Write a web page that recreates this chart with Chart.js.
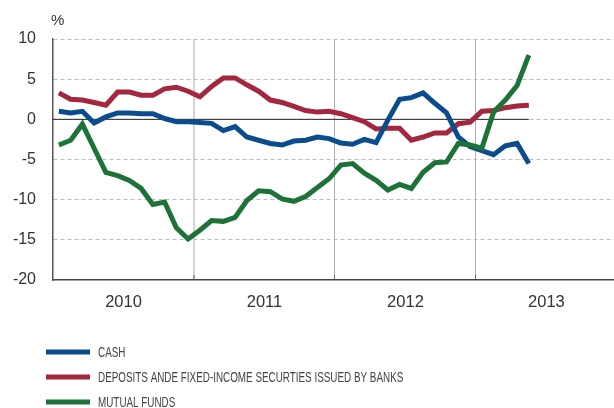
<!DOCTYPE html>
<html>
<head>
<meta charset="utf-8">
<script src="https://cdn.jsdelivr.net/npm/chart.js@4.4.1/dist/chart.umd.min.js"></script>
<style>
  html, body { margin: 0; padding: 0; background: #fff; }
  #wrap { position: relative; width: 614px; height: 408px; }
</style>
</head>
<body>
<div id="wrap"><canvas id="chart" width="614" height="408"></canvas></div>
<script>
// monthly values, Jan 2010 .. May 2013 (%)
const years = ["2010", "2011", "2012", "2013"];
const yTicks = [10, 5, 0, -5, -10, -15, -20];
const seriesNames = [
  "CASH",
  "DEPOSITS ANDE FIXED-INCOME SECURTIES ISSUED BY BANKS",
  "MUTUAL FUNDS",
];
const cash = [
  1.0, 0.8, 1.0, -0.45, 0.3, 0.8, 0.8, 0.7, 0.7, 0.1, -0.3, -0.3,
  -0.4, -0.5, -1.4, -0.9, -2.2, -2.6, -3.0, -3.2, -2.7, -2.6, -2.2, -2.4,
  -2.95, -3.1, -2.5, -2.9, -0.1, 2.5, 2.7, 3.3, 2.0, 0.8, -2.2, -3.4,
  -3.9, -4.4, -3.3, -3.0, -5.5,
];
const deposits = [
  3.3, 2.5, 2.4, 2.1, 1.75, 3.4, 3.4, 3.0, 3.0, 3.8, 4.0, 3.5,
  2.8, 4.1, 5.15, 5.15, 4.3, 3.5, 2.4, 2.1, 1.6, 1.1, 0.9, 1.0,
  0.7, 0.2, -0.3, -1.2, -1.1, -1.1, -2.6, -2.2, -1.7, -1.7, -0.55, -0.35,
  1.0, 1.1, 1.45, 1.65, 1.75,
];
const mutualFunds = [
  -3.2, -2.6, -0.6, -3.6, -6.6, -7.0, -7.6, -8.6, -10.6, -10.3, -13.5, -14.9,
  -13.8, -12.6, -12.7, -12.2, -10.1, -8.9, -9.0, -9.9, -10.2, -9.6, -8.5, -7.4,
  -5.7, -5.5, -6.7, -7.6, -8.8, -8.1, -8.6, -6.6, -5.4, -5.3, -3.0, -3.2,
  -3.6, 0.9, 2.4, 4.2, 8.0,
];
const colors = ["#0b4c8c", "#a3283f", "#1d7337"];

function toPoints(values) {
  return values.map((v, i) => ({ x: i + 0.5, y: v }));
}

const FONT = "'Liberation Sans', Arial, sans-serif";

// legend + unit label, drawn on the canvas (legend text is condensed)
const extras = {
  id: "extras",
  afterDraw(chart) {
    const ctx = chart.ctx;
    ctx.save();
    ctx.fillStyle = "#333";
    ctx.font = "15px " + FONT;
    ctx.textAlign = "left";
    ctx.textBaseline = "middle";
    ctx.fillText("%", 51, 21);

    ctx.font = "14px " + FONT;
    seriesNames.forEach((name, i) => {
      const y = 352 + i * 25;
      ctx.strokeStyle = colors[i];
      ctx.lineWidth = 5;
      ctx.beginPath();
      ctx.moveTo(46, y);
      ctx.lineTo(90, y);
      ctx.stroke();
      ctx.save();
      ctx.translate(98, y + 1);
      ctx.scale(0.705, 1);
      ctx.fillStyle = "#444";
      ctx.fillText(name, 0, 0);
      ctx.restore();
    });
    ctx.restore();
  },
};

const ctx = document.getElementById("chart");
new Chart(ctx, {
  type: "line",
  data: {
    datasets: [
      {
        label: "zero",
        data: [{ x: 0, y: 0 }, { x: cash.length - 0.5, y: 0 }],
        borderColor: "#222",
        borderWidth: 1,
        pointRadius: 0,
        order: 4,
      },
      {
        label: seriesNames[0],
        data: toPoints(cash),
        borderColor: colors[0],
        borderWidth: 5,
        pointRadius: 0,
        order: 2,
      },
      {
        label: seriesNames[1],
        data: toPoints(deposits),
        borderColor: colors[1],
        borderWidth: 5,
        pointRadius: 0,
        order: 3,
      },
      {
        label: seriesNames[2],
        data: toPoints(mutualFunds),
        borderColor: colors[2],
        borderWidth: 5,
        pointRadius: 0,
        order: 1,
      },
    ],
  },
  options: {
    responsive: false,
    animation: false,
    devicePixelRatio: 1,
    layout: { padding: { top: 39, right: 0, bottom: 88, left: 0 } },
    plugins: {
      legend: { display: false },
      tooltip: { enabled: false },
    },
    scales: {
      x: {
        type: "linear",
        position: "bottom",
        min: 0,
        max: 47.75,
        afterBuildTicks: (s) => {
          s.ticks = [12, 24, 36].map((v) => ({ value: v }));
        },
        afterFit: (s) => {
          s.height = 0;
        },
        ticks: { display: false },
        grid: {
          color: (c) => (c.tick && c.tick.value === 12 ? "#d4d4d4" : "#b0b0b0"),
          lineWidth: (c) => (c.tick && c.tick.value === 12 ? 2 : 1),
          drawTicks: true,
          tickLength: -5,
          tickColor: "#666",
          tickWidth: 1,
        },
        border: { display: false },
      },
      xYears: {
        type: "linear",
        position: "bottom",
        min: 0,
        max: 47.75,
        afterBuildTicks: (s) => {
          s.ticks = years.map((y, i) => ({ value: i * 12 + 6 }));
        },
        afterFit: (s) => {
          s.height = 40;
        },
        ticks: {
          autoSkip: false,
          maxRotation: 0,
          padding: 13,
          color: "#333",
          font: { family: FONT, size: 16.5 },
          callback: (v) => years[Math.round((v - 6) / 12)],
        },
        grid: { display: false, drawTicks: false },
        border: { display: true, color: "#444", width: 1.5 },
      },
      y: {
        min: -20,
        max: 10,
        afterBuildTicks: (s) => {
          s.ticks = yTicks.map((v) => ({ value: v }));
        },
        afterFit: (s) => {
          s.width = 53;
        },
        ticks: {
          padding: 17,
          color: "#333",
          font: { family: FONT, size: 16 },
        },
        grid: {
          color: (c) => (c.tick && c.tick.value === -20 ? "rgba(0,0,0,0)" : "#bdbdbd"),
          lineWidth: 1,
          drawTicks: false,
        },
        border: { display: true, color: "#555", width: 1.5, dash: [4, 3] },
      },
    },
  },
  plugins: [extras],
});
</script>
</body>
</html>
